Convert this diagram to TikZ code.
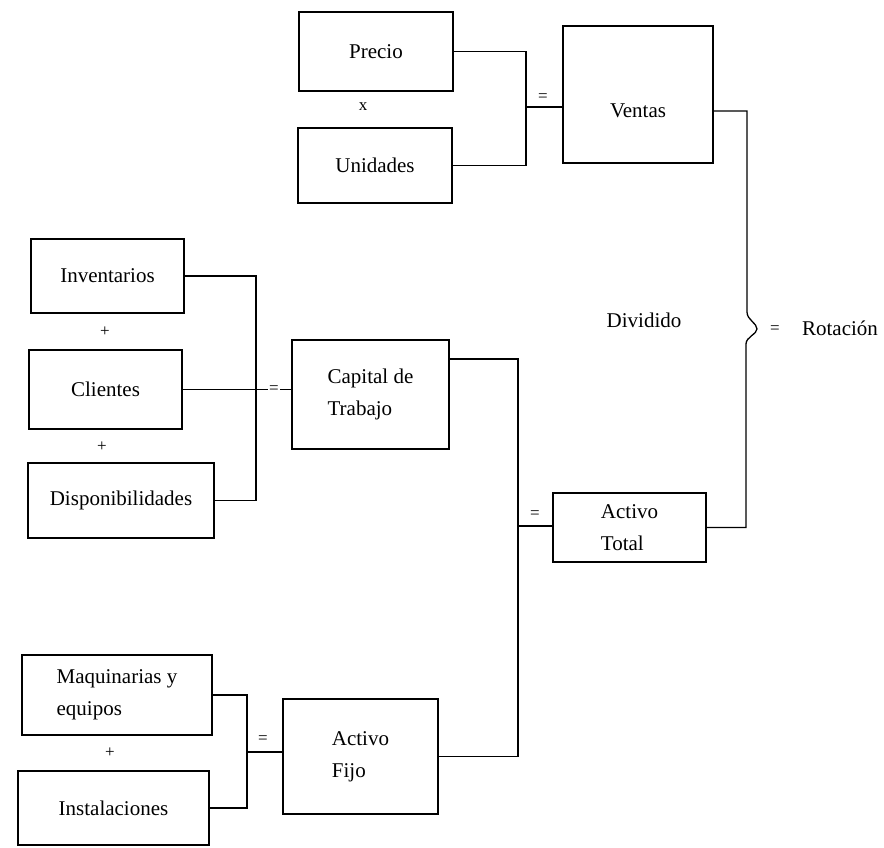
\documentclass[tikz,border=0pt]{standalone}
\usepackage{fontspec}
\setmainfont{Liberation Serif}
\begin{document}
\begin{tikzpicture}[x=1pt,y=-1pt,
  box/.style={draw, line width=1.3pt, inner sep=0pt, font=\fontsize{21}{32}\selectfont, align=center},
  lbox/.style={box, align=left},
  conn/.style={line width=1.3pt},
  sym/.style={inner sep=1pt, font=\fontsize{17}{19}\selectfont},
  txt/.style={inner sep=0pt, font=\fontsize{21}{24}\selectfont}]
\useasboundingbox (0,0) rectangle (884,847);

% top group
\node[box, minimum width=154pt, minimum height=79pt] (precio) at (376,51.5) {Precio};
\node[box, minimum width=154pt, minimum height=75pt] (unid) at (375,165.5) {Unidades};
\node[box, minimum width=150pt, minimum height=137pt, text height=46pt, text depth=0pt] (ventas) at (638,94.5) {Ventas};
\node[sym] (xop) at (363,107) {x};

% working capital group
\node[box, minimum width=153pt, minimum height=74pt] (inv) at (107.5,276) {Inventarios};
\node[box, minimum width=153pt, minimum height=79pt] (cli) at (105.5,389.5) {Clientes};
\node[box, minimum width=186pt, minimum height=75pt] (disp) at (121,500.5) {Disponibilidades};
\node[lbox, minimum width=157pt, minimum height=109pt] (cap) at (370.5,394.5) {Capital de\\Trabajo};
\node[sym] (p1) at (105,332) {+};
\node[sym] (p2) at (102,447) {+};

% fixed assets group
\node[lbox, minimum width=190pt, minimum height=80pt] (maq) at (117,695) {Maquinarias y\\equipos};
\node[box, minimum width=191pt, minimum height=74pt] (inst) at (113.5,808) {Instalaciones};
\node[lbox, minimum width=155pt, minimum height=115pt] (af) at (360.5,756.5) {Activo\\Fijo};
\node[sym] (p3) at (110,753) {+};

% total assets
\node[lbox, minimum width=153pt, minimum height=69pt] (at) at (629.5,527.5) {Activo\\Total};

% junctions
\coordinate (j1) at (526,107);
\coordinate (j2) at (256,390);
\coordinate (j3) at (518,526);
\coordinate (j4) at (247,752);

% connectors top
\draw[conn] (precio.east) -| (j1) |- (unid.east);
\draw[conn] (j1) -- (ventas.west |- j1);
\node[sym] (eq1) at (543,98) {=};

% connectors working capital
\draw[conn] (inv.east) -| (j2) |- (disp.east);
\draw[conn] (cli.east) -- (cap.west |- cli.east);
\node[sym, fill=white] (eq2) at (274,389.5) {=};

% connectors fixed assets
\draw[conn] (maq.east) -| (j4) |- (inst.east);
\draw[conn] (j4) -- (af.west |- j4);
\node[sym] (eq3) at (263,740) {=};

% total assets
\draw[conn] ([yshift=35.5pt]cap.east) -| (j3) |- (af.east);
\draw[conn] (j3) -- (at.west |- j3);
\node[sym] (eq4) at (535,515) {=};

% brace to rotation
\coordinate (b1) at (747,312);
\coordinate (tip) at (757,329);
\coordinate (b2) at (746,344);
\draw[conn] ([yshift=-16.5pt]ventas.east) -| (b1)
  .. controls (747,320) and (757,323) .. (tip)
  .. controls (757,334) and (746,337) .. (b2)
  |- (at.east);
\node[sym] (eq5) at (775,330) {=};
\node[txt] (rot) at (840,328) {Rotación};
\node[txt] (div) at (644,320) {Dividido};
\end{tikzpicture}
\end{document}
